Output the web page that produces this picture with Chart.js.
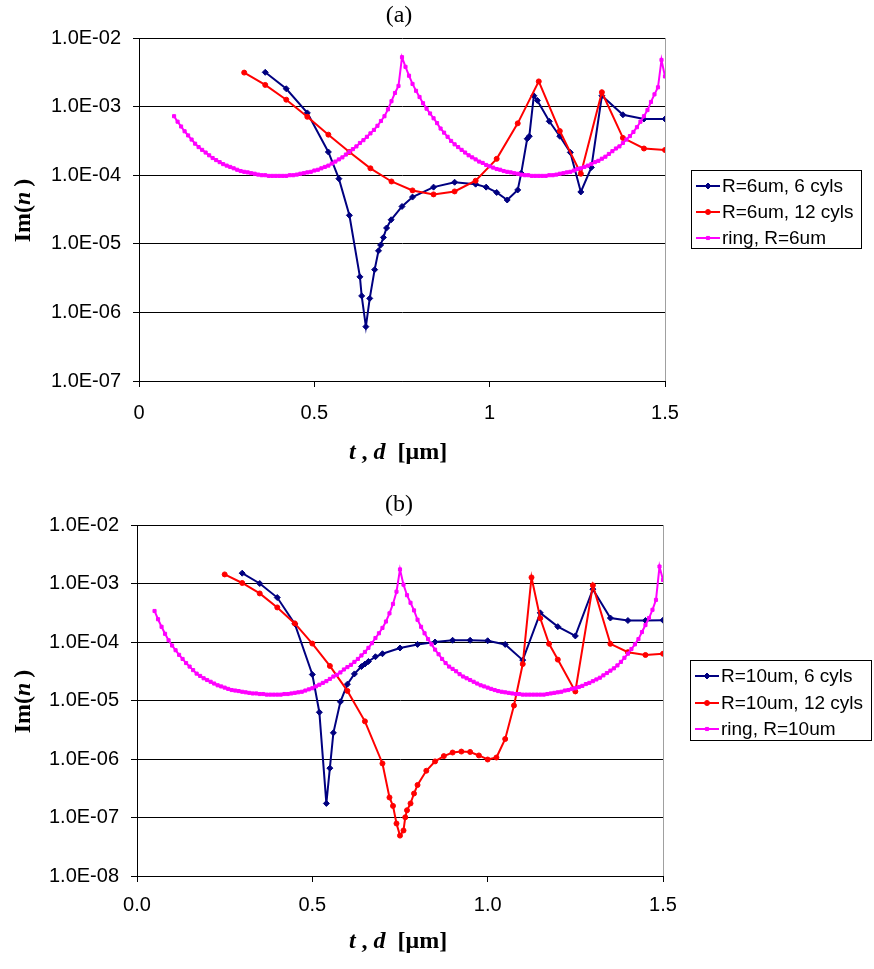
<!DOCTYPE html>
<html>
<head>
<meta charset="utf-8">
<title>Im(n) vs t, d</title>
<script src="https://cdn.jsdelivr.net/npm/chart.js@4.4.1/dist/chart.umd.min.js"></script>
<style>
  html, body { margin: 0; padding: 0; background: #fff; }
  canvas { position: absolute; left: 0; }
</style>
</head>
<body>
<canvas id="chartA" width="874" height="485" style="top:0"></canvas>
<canvas id="chartB" width="874" height="484" style="top:485px"></canvas>
<script>
// ─── Panel (a): R = 6 um ─── //
const sixCylsAX = [0.36, 0.42, 0.48, 0.54, 0.57, 0.60, 0.63, 0.635, 0.647, 0.658,
  0.672, 0.683, 0.689, 0.697, 0.706, 0.719, 0.75, 0.78, 0.84, 0.90,
  0.96, 0.99, 1.02, 1.05, 1.08, 1.09, 1.107, 1.113, 1.126, 1.136,
  1.17, 1.20, 1.23, 1.26, 1.29, 1.32, 1.38, 1.44, 1.50];
const sixCylsAY = [3.16e-3, 1.82e-3, 8.1e-4, 2.18e-4, 8.9e-5, 2.6e-5, 3.3e-6, 1.74e-6, 6.2e-7, 1.6e-6,
  4.2e-6, 7.9e-6, 9.6e-6, 1.24e-5, 1.7e-5, 2.24e-5, 3.5e-5, 4.8e-5, 6.7e-5, 7.9e-5,
  7.4e-5, 6.7e-5, 5.6e-5, 4.35e-5, 6.1e-5, 1.07e-4, 3.4e-4, 3.7e-4, 1.44e-3, 1.23e-3,
  6.1e-4, 3.7e-4, 2.15e-4, 5.7e-5, 1.3e-4, 1.44e-3, 7.6e-4, 6.6e-4, 6.6e-4];

const twelveCylsAX = [0.30, 0.36, 0.42, 0.48, 0.54, 0.60, 0.66, 0.72, 0.78, 0.84,
  0.90, 0.96, 1.02, 1.08, 1.14, 1.20, 1.26, 1.32, 1.38, 1.44, 1.50];
const twelveCylsAY = [3.13e-3, 2.07e-3, 1.26e-3, 7.1e-4, 3.9e-4, 2.18e-4, 1.26e-4, 8.1e-5, 6.0e-5, 5.25e-5,
  5.8e-5, 8.3e-5, 1.73e-4, 5.7e-4, 2.33e-3, 4.4e-4, 1.05e-4, 1.62e-3, 3.5e-4, 2.45e-4, 2.33e-4];

const ringAX = [0.10, 0.11, 0.12, 0.13, 0.14, 0.15, 0.16, 0.17, 0.18, 0.19,
  0.20, 0.21, 0.22, 0.23, 0.24, 0.25, 0.26, 0.27, 0.28, 0.29,
  0.30, 0.31, 0.32, 0.33, 0.34, 0.35, 0.36, 0.37, 0.38, 0.39,
  0.40, 0.41, 0.42, 0.43, 0.44, 0.45, 0.46, 0.47, 0.48, 0.49,
  0.50, 0.51, 0.52, 0.53, 0.54, 0.55, 0.56, 0.57, 0.58, 0.59,
  0.60, 0.61, 0.62, 0.63, 0.64, 0.65, 0.66, 0.67, 0.68, 0.69,
  0.70, 0.71, 0.72, 0.73, 0.74, 0.75, 0.76, 0.77, 0.78, 0.79,
  0.80, 0.81, 0.82, 0.83, 0.84, 0.85, 0.86, 0.87, 0.88, 0.89,
  0.90, 0.91, 0.92, 0.93, 0.94, 0.95, 0.96, 0.97, 0.98, 0.99,
  1.00, 1.01, 1.02, 1.03, 1.04, 1.05, 1.06, 1.07, 1.08, 1.09,
  1.10, 1.11, 1.12, 1.13, 1.14, 1.15, 1.16, 1.17, 1.18, 1.19,
  1.20, 1.21, 1.22, 1.23, 1.24, 1.25, 1.26, 1.27, 1.28, 1.29,
  1.30, 1.31, 1.32, 1.33, 1.34, 1.35, 1.36, 1.37, 1.38, 1.39,
  1.40, 1.41, 1.42, 1.43, 1.44, 1.45, 1.46, 1.47, 1.48, 1.49,
  1.50];
const ringAY = [7.24e-4, 6.03e-4, 5.13e-4, 4.37e-4, 3.80e-4, 3.31e-4, 2.88e-4, 2.57e-4, 2.34e-4, 2.14e-4,
  1.95e-4, 1.78e-4, 1.66e-4, 1.55e-4, 1.45e-4, 1.38e-4, 1.32e-4, 1.26e-4, 1.20e-4, 1.15e-4,
  1.12e-4, 1.10e-4, 1.07e-4, 1.05e-4, 1.02e-4, 1.00e-4, 1.00e-4, 9.77e-5, 9.77e-5, 9.77e-5,
  9.77e-5, 9.77e-5, 9.77e-5, 1.00e-4, 1.00e-4, 1.02e-4, 1.05e-4, 1.07e-4, 1.10e-4, 1.12e-4,
  1.17e-4, 1.20e-4, 1.26e-4, 1.32e-4, 1.38e-4, 1.48e-4, 1.58e-4, 1.70e-4, 1.82e-4, 2.00e-4,
  2.19e-4, 2.40e-4, 2.63e-4, 2.95e-4, 3.24e-4, 3.63e-4, 4.07e-4, 4.57e-4, 5.25e-4, 6.17e-4,
  7.24e-4, 9.12e-4, 1.20e-3, 1.58e-3, 2.00e-3, 5.25e-3, 3.80e-3, 2.82e-3, 2.14e-3, 1.70e-3,
  1.38e-3, 1.12e-3, 9.33e-4, 7.94e-4, 6.76e-4, 5.75e-4, 4.79e-4, 4.17e-4, 3.63e-4, 3.16e-4,
  2.82e-4, 2.57e-4, 2.34e-4, 2.14e-4, 1.95e-4, 1.82e-4, 1.70e-4, 1.58e-4, 1.51e-4, 1.41e-4,
  1.35e-4, 1.29e-4, 1.23e-4, 1.20e-4, 1.15e-4, 1.12e-4, 1.10e-4, 1.07e-4, 1.05e-4, 1.02e-4,
  1.00e-4, 1.00e-4, 9.77e-5, 9.77e-5, 9.77e-5, 9.77e-5, 9.77e-5, 1.00e-4, 1.00e-4, 1.02e-4,
  1.05e-4, 1.07e-4, 1.10e-4, 1.12e-4, 1.17e-4, 1.23e-4, 1.26e-4, 1.32e-4, 1.38e-4, 1.45e-4,
  1.55e-4, 1.62e-4, 1.74e-4, 1.86e-4, 2.04e-4, 2.24e-4, 2.45e-4, 2.63e-4, 2.95e-4, 3.31e-4,
  3.72e-4, 4.27e-4, 5.01e-4, 6.03e-4, 7.24e-4, 8.91e-4, 1.17e-3, 1.51e-3, 1.91e-3, 4.79e-3,
  2.75e-3];

// ─── Panel (b): R = 10 um ─── //
const sixCylsBX = [0.30, 0.35, 0.40, 0.45, 0.50, 0.52, 0.54, 0.55, 0.56, 0.58,
  0.60, 0.62, 0.64, 0.65, 0.66, 0.68, 0.70, 0.75, 0.80, 0.85,
  0.90, 0.95, 1.00, 1.05, 1.10, 1.15, 1.20, 1.25, 1.30, 1.35,
  1.40, 1.45, 1.50];
const sixCylsBY = [1.50e-3, 1.0e-3, 5.75e-4, 2.04e-4, 2.78e-5, 6.3e-6, 1.74e-7, 6.97e-7, 2.8e-6, 9.5e-6,
  1.9e-5, 2.85e-5, 3.8e-5, 4.2e-5, 4.65e-5, 5.6e-5, 6.3e-5, 7.9e-5, 9.1e-5, 1.0e-4,
  1.07e-4, 1.07e-4, 1.05e-4, 9.1e-5, 4.9e-5, 3.15e-4, 1.83e-4, 1.27e-4, 8.0e-4, 2.57e-4,
  2.33e-4, 2.33e-4, 2.36e-4];

const twelveCylsBX = [0.25, 0.30, 0.35, 0.40, 0.45, 0.50, 0.55, 0.60, 0.65, 0.70,
  0.72, 0.73, 0.74, 0.75, 0.76, 0.765, 0.77, 0.78, 0.79, 0.80,
  0.825, 0.85, 0.875, 0.90, 0.925, 0.95, 0.975, 1.00, 1.025, 1.05,
  1.075, 1.10, 1.125, 1.15, 1.175, 1.20, 1.25, 1.30, 1.35, 1.40,
  1.45, 1.50];
const twelveCylsBY = [1.43e-3, 1.02e-3, 6.76e-4, 3.9e-4, 2.08e-4, 9.4e-5, 3.9e-5, 1.46e-5, 4.4e-6, 8.4e-7,
  2.2e-7, 1.58e-7, 7.9e-8, 4.9e-8, 6.0e-8, 1.01e-7, 1.33e-7, 1.74e-7, 2.57e-7, 3.6e-7,
  6.3e-7, 9.1e-7, 1.12e-6, 1.29e-6, 1.34e-6, 1.32e-6, 1.15e-6, 9.8e-7, 1.06e-6, 2.2e-6,
  8.2e-6, 4.2e-5, 1.27e-3, 2.55e-4, 9.3e-5, 5.0e-5, 1.43e-5, 9.3e-4, 9.3e-5, 6.7e-5,
  6.0e-5, 6.3e-5];

const ringBX = [0.05, 0.06, 0.07, 0.08, 0.09,
  0.10, 0.11, 0.12, 0.13, 0.14, 0.15, 0.16, 0.17, 0.18, 0.19,
  0.20, 0.21, 0.22, 0.23, 0.24, 0.25, 0.26, 0.27, 0.28, 0.29,
  0.30, 0.31, 0.32, 0.33, 0.34, 0.35, 0.36, 0.37, 0.38, 0.39,
  0.40, 0.41, 0.42, 0.43, 0.44, 0.45, 0.46, 0.47, 0.48, 0.49,
  0.50, 0.51, 0.52, 0.53, 0.54, 0.55, 0.56, 0.57, 0.58, 0.59,
  0.60, 0.61, 0.62, 0.63, 0.64, 0.65, 0.66, 0.67, 0.68, 0.69,
  0.70, 0.71, 0.72, 0.73, 0.74, 0.75, 0.76, 0.77, 0.78, 0.79,
  0.80, 0.81, 0.82, 0.83, 0.84, 0.85, 0.86, 0.87, 0.88, 0.89,
  0.90, 0.91, 0.92, 0.93, 0.94, 0.95, 0.96, 0.97, 0.98, 0.99,
  1.00, 1.01, 1.02, 1.03, 1.04, 1.05, 1.06, 1.07, 1.08, 1.09,
  1.10, 1.11, 1.12, 1.13, 1.14, 1.15, 1.16, 1.17, 1.18, 1.19,
  1.20, 1.21, 1.22, 1.23, 1.24, 1.25, 1.26, 1.27, 1.28, 1.29,
  1.30, 1.31, 1.32, 1.33, 1.34, 1.35, 1.36, 1.37, 1.38, 1.39,
  1.40, 1.41, 1.42, 1.43, 1.44, 1.45, 1.46, 1.47, 1.48, 1.49,
  1.50];
const ringBY = [3.39e-4, 2.45e-4, 1.82e-4, 1.38e-4, 1.07e-4,
  8.71e-5, 7.24e-5, 6.03e-5, 5.13e-5, 4.37e-5, 3.80e-5, 3.31e-5, 2.88e-5, 2.63e-5, 2.40e-5,
  2.24e-5, 2.09e-5, 1.95e-5, 1.82e-5, 1.74e-5, 1.66e-5, 1.58e-5, 1.51e-5, 1.48e-5, 1.45e-5,
  1.41e-5, 1.38e-5, 1.35e-5, 1.32e-5, 1.32e-5, 1.29e-5, 1.29e-5, 1.26e-5, 1.26e-5, 1.26e-5,
  1.26e-5, 1.26e-5, 1.29e-5, 1.29e-5, 1.32e-5, 1.35e-5, 1.38e-5, 1.41e-5, 1.48e-5, 1.55e-5,
  1.62e-5, 1.74e-5, 1.86e-5, 2.00e-5, 2.14e-5, 2.34e-5, 2.57e-5, 2.75e-5, 3.02e-5, 3.39e-5,
  3.72e-5, 4.07e-5, 4.57e-5, 5.13e-5, 5.89e-5, 6.76e-5, 7.94e-5, 9.55e-5, 1.17e-4, 1.41e-4,
  1.74e-4, 2.24e-4, 3.09e-4, 4.47e-4, 7.24e-4, 1.74e-3, 9.55e-4, 6.31e-4, 4.68e-4, 3.47e-4,
  2.40e-4, 1.82e-4, 1.41e-4, 1.12e-4, 9.12e-5, 7.41e-5, 6.17e-5, 5.13e-5, 4.37e-5, 3.80e-5,
  3.47e-5, 3.16e-5, 2.82e-5, 2.57e-5, 2.40e-5, 2.24e-5, 2.09e-5, 1.95e-5, 1.82e-5, 1.74e-5,
  1.66e-5, 1.58e-5, 1.51e-5, 1.45e-5, 1.41e-5, 1.38e-5, 1.35e-5, 1.32e-5, 1.29e-5, 1.29e-5,
  1.26e-5, 1.26e-5, 1.26e-5, 1.26e-5, 1.26e-5, 1.26e-5, 1.26e-5, 1.29e-5, 1.32e-5, 1.35e-5,
  1.38e-5, 1.41e-5, 1.48e-5, 1.51e-5, 1.58e-5, 1.62e-5, 1.70e-5, 1.78e-5, 1.91e-5, 2.00e-5,
  2.14e-5, 2.29e-5, 2.45e-5, 2.69e-5, 2.95e-5, 3.24e-5, 3.55e-5, 3.98e-5, 4.57e-5, 5.37e-5,
  6.31e-5, 7.59e-5, 9.12e-5, 1.12e-4, 1.48e-4, 1.95e-4, 2.57e-4, 3.55e-4, 5.25e-4, 1.95e-3,
  1.15e-3];

// ─── Axes and legend text ─── //
const yTicksA = [1e-7, 1e-6, 1e-5, 1e-4, 1e-3, 1e-2];
const yTickLabelsA = ['1.0E-07', '1.0E-06', '1.0E-05', '1.0E-04', '1.0E-03', '1.0E-02'];
const yTicksB = [1e-8, 1e-7, 1e-6, 1e-5, 1e-4, 1e-3, 1e-2];
const yTickLabelsB = ['1.0E-08', '1.0E-07', '1.0E-06', '1.0E-05', '1.0E-04', '1.0E-03', '1.0E-02'];
const xTicks = [0, 0.5, 1, 1.5];
const xTickLabelsA = ['0', '0.5', '1', '1.5'];
const xTickLabelsB = ['0.0', '0.5', '1.0', '1.5'];
const seriesLabelsA = ['R=6um, 6 cyls', 'R=6um, 12 cyls', 'ring, R=6um'];
const seriesLabelsB = ['R=10um, 6 cyls', 'R=10um, 12 cyls', 'ring, R=10um'];

const COLORS = { navy: '#000080', red: '#ff0000', magenta: '#ff00ff', grid: '#000000', frame: '#a0a0a0' };
const SANS = '"Liberation Sans", Arial, sans-serif';
const SERIF = '"Liberation Serif", "Times New Roman", serif';

const pairs = (xs, ys) => xs.map((x, i) => ({ x, y: ys[i] }));

// Text made of runs with different styles, centred on (cx, cy)
function drawRuns(ctx, runs, cx, cy) {
  let total = 0;
  runs.forEach(r => { ctx.font = r.font; total += ctx.measureText(r.text).width; });
  let x = cx - total / 2;
  ctx.textAlign = 'left';
  ctx.textBaseline = 'middle';
  runs.forEach(r => {
    ctx.font = r.font;
    ctx.fillText(r.text, x, cy);
    x += ctx.measureText(r.text).width;
  });
}

// Panel title, axis titles, plot frame and boxed legend
const decorPlugin = {
  id: 'decor',
  afterDraw(chart, args, o) {
    const { ctx, chartArea: a } = chart;
    ctx.save();

    ctx.strokeStyle = COLORS.frame;
    ctx.lineWidth = 1;
    ctx.beginPath();
    ctx.moveTo(Math.round(a.right) + 0.5, a.top);
    ctx.lineTo(Math.round(a.right) + 0.5, a.bottom);
    ctx.stroke();

    ctx.fillStyle = '#000';
    drawRuns(ctx, [{ text: o.title, font: `24px ${SERIF}` }], o.titleX, o.titleY);

    const bold = `bold 24px ${SERIF}`;
    const boldIt = `italic bold 24px ${SERIF}`;
    drawRuns(ctx, [
      { text: 't', font: boldIt },
      { text: ' , ', font: bold },
      { text: 'd', font: boldIt },
      { text: '  [\u03bcm]', font: bold },
    ], o.xTitleX, o.xTitleY);

    ctx.save();
    ctx.translate(o.yTitleX, (a.top + a.bottom) / 2 + 1);
    ctx.rotate(-Math.PI / 2);
    drawRuns(ctx, [
      { text: 'Im(', font: bold },
      { text: 'n', font: boldIt },
      { text: '\u2009)', font: bold },
    ], 0, 0);
    ctx.restore();

    const lg = o.legend;
    ctx.strokeStyle = '#000';
    ctx.lineWidth = 1;
    ctx.strokeRect(lg.x + 0.5, lg.y + 0.5, lg.w, lg.h);
    chart.data.datasets.forEach((ds, i) => {
      const y = lg.rowY[i];
      ctx.strokeStyle = ds.borderColor;
      ctx.lineWidth = ds.borderWidth;
      ctx.beginPath();
      ctx.moveTo(lg.x + 5, y);
      ctx.lineTo(lg.x + 29, y);
      ctx.stroke();
      ctx.fillStyle = ds.borderColor;
      ctx.lineWidth = 1;
      Chart.helpers.drawPoint(ctx, { pointStyle: ds.pointStyle, radius: ds.pointRadius, rotation: 0, borderWidth: 1 }, lg.x + 17, y);
      ctx.fillStyle = '#000';
      ctx.font = `19px ${SANS}`;
      ctx.textAlign = 'left';
      ctx.textBaseline = 'middle';
      ctx.fillText(ds.label, lg.x + 31, y + 1);
    });

    ctx.restore();
  }
};

function createPanel(canvasId, cfg) {
  const canvas = document.getElementById(canvasId);
  const series = [
    { data: pairs(cfg.six[0], cfg.six[1]), color: COLORS.navy, style: 'rectRot', radius: 3, width: 2, order: 3 },
    { data: pairs(cfg.twelve[0], cfg.twelve[1]), color: COLORS.red, style: 'circle', radius: 2.5, width: 2, order: 2 },
    { data: pairs(cfg.ring[0], cfg.ring[1]), color: COLORS.magenta, style: 'rect', radius: 2.2, width: 2, order: 1 },
  ];

  return new Chart(canvas, {
    type: 'scatter',
    data: {
      datasets: series.map((s, i) => ({
        label: cfg.labels[i],
        data: s.data,
        showLine: true,
        borderColor: s.color,
        backgroundColor: s.color,
        borderWidth: s.width,
        pointStyle: s.style,
        pointRadius: s.radius,
        pointBorderWidth: 1,
        pointBackgroundColor: s.color,
        pointBorderColor: s.color,
        tension: 0,
        order: s.order,
      }))
    },
    options: {
      responsive: false,
      animation: false,
      events: [],
      layout: { padding: { top: cfg.area.top, right: canvas.width - cfg.area.right, bottom: 0, left: 0 } },
      scales: {
        x: {
          type: 'linear',
          min: 0,
          max: 1.5,
          afterBuildTicks: (scale) => { scale.ticks = xTicks.map(v => ({ value: v })); },
          afterFit: (scale) => { scale.height = canvas.height - cfg.area.bottom; },
          ticks: {
            autoSkip: false,
            maxRotation: 0,
            padding: cfg.xTickPad,
            color: '#000',
            font: { family: SANS, size: 20 },
            callback: (v) => cfg.xLabels[xTicks.indexOf(v)],
          },
          grid: { drawOnChartArea: false, drawTicks: true, tickLength: 6, color: COLORS.grid },
          border: { display: true, color: COLORS.grid, width: 1 },
        },
        y: {
          type: 'logarithmic',
          min: cfg.yTicks[0],
          max: cfg.yTicks[cfg.yTicks.length - 1],
          afterBuildTicks: (scale) => { scale.ticks = cfg.yTicks.map(v => ({ value: v, major: true })); },
          afterFit: (scale) => { scale.width = cfg.area.left; },
          ticks: {
            autoSkip: false,
            padding: 12,
            color: '#000',
            font: { family: SANS, size: 20 },
            callback: (v) => cfg.yLabels[cfg.yTicks.findIndex(t => Math.abs(Math.log10(v / t)) < 1e-6)],
          },
          grid: { drawOnChartArea: true, drawTicks: true, tickLength: 6, color: COLORS.grid, lineWidth: 1 },
          border: { display: true, color: COLORS.grid, width: 1 },
        }
      },
      plugins: {
        legend: { display: false },
        tooltip: { enabled: false },
        decor: cfg.decor,
      }
    },
    plugins: [decorPlugin]
  });
}

createPanel('chartA', {
  six: [sixCylsAX, sixCylsAY],
  twelve: [twelveCylsAX, twelveCylsAY],
  ring: [ringAX, ringAY],
  labels: seriesLabelsA,
  yTicks: yTicksA,
  yLabels: yTickLabelsA,
  xLabels: xTickLabelsA,
  xTickPad: 14,
  area: { left: 139, right: 665, top: 38, bottom: 381 },
  decor: {
    title: '(a)', titleX: 399, titleY: 16,
    xTitleX: 398, xTitleY: 453,
    yTitleX: 24,
    legend: { x: 691, y: 170, w: 170, h: 78, rowY: [186, 212, 238] },
  },
});

createPanel('chartB', {
  six: [sixCylsBX, sixCylsBY],
  twelve: [twelveCylsBX, twelveCylsBY],
  ring: [ringBX, ringBY],
  labels: seriesLabelsB,
  yTicks: yTicksB,
  yLabels: yTickLabelsB,
  xLabels: xTickLabelsB,
  xTickPad: 11,
  area: { left: 137, right: 663, top: 40, bottom: 391 },
  decor: {
    title: '(b)', titleX: 399, titleY: 20,
    xTitleX: 398, xTitleY: 457,
    yTitleX: 24,
    legend: { x: 690, y: 175, w: 181, h: 80, rowY: [191, 218, 244] },
  },
});
</script>
</body>
</html>
